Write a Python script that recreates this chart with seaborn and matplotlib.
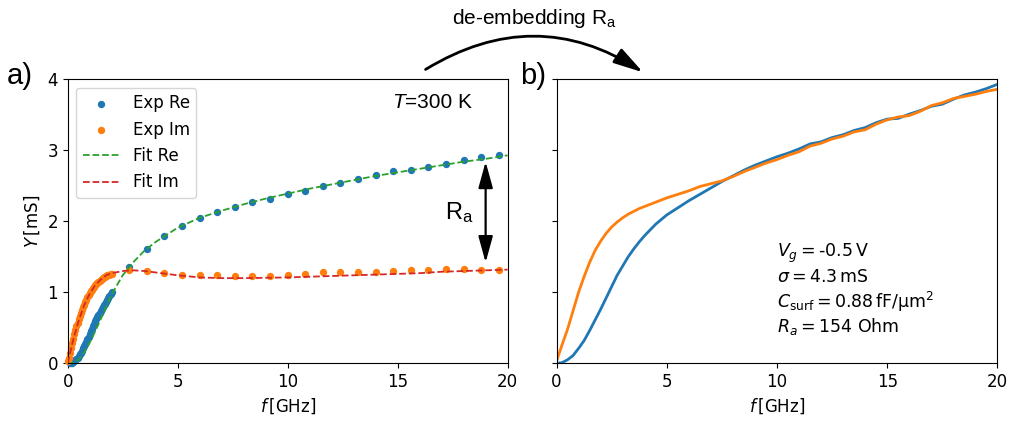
import pandas as pd
import seaborn as sns
import matplotlib.pyplot as plt
from matplotlib.patches import FancyArrowPatch

# ---- panel a) measured admittance (dense low-f sweep + sparse high-f points)
f_re_dense = [0.10, 0.15, 0.20, 0.25, 0.30, 0.35, 0.40, 0.45, 0.50, 0.55, 0.60,
              0.65, 0.70, 0.75, 0.80, 0.85, 0.90, 0.95, 1.00, 1.05, 1.10, 1.15,
              1.20, 1.25, 1.30, 1.35, 1.40, 1.45, 1.50, 1.55, 1.60, 1.65, 1.70,
              1.75, 1.80, 1.85, 1.90, 1.95, 2.00]
re_dense = [0.0, 0.0, 0.01, 0.02, 0.03, 0.045, 0.06, 0.08, 0.10, 0.125, 0.15,
            0.18, 0.21, 0.24, 0.27, 0.305, 0.34, 0.375, 0.41, 0.45, 0.49, 0.525,
            0.56, 0.59, 0.62, 0.65, 0.68, 0.71, 0.74, 0.765, 0.79, 0.815, 0.84,
            0.865, 0.89, 0.92, 0.95, 0.975, 1.00]
f_im_dense = [0.00, 0.05, 0.10, 0.15, 0.20, 0.25, 0.30, 0.35, 0.40, 0.45, 0.50,
              0.55, 0.60, 0.65, 0.70, 0.75, 0.80, 0.85, 0.90, 0.95, 1.00, 1.05,
              1.10, 1.15, 1.20, 1.25, 1.30, 1.35, 1.40, 1.45, 1.50, 1.55, 1.60,
              1.65, 1.70, 1.75, 1.80, 1.85, 1.90, 1.95, 2.00]
im_dense = [0.03, 0.08, 0.14, 0.21, 0.28, 0.345, 0.41, 0.465, 0.52, 0.57, 0.62,
            0.665, 0.71, 0.75, 0.79, 0.825, 0.86, 0.895, 0.93, 0.96, 0.99, 1.015,
            1.04, 1.06, 1.08, 1.10, 1.12, 1.135, 1.15, 1.165, 1.18, 1.19, 1.20,
            1.21, 1.22, 1.23, 1.24, 1.245, 1.25, 1.255, 1.26]

f_sparse = [2.8, 3.6, 4.4, 5.2, 6.0, 6.8, 7.6, 8.4, 9.2, 10.0, 10.8,
            11.6, 12.4, 13.2, 14.0, 14.8, 15.6, 16.4, 17.2, 18.0, 18.8, 19.6]
re_sparse = [1.36, 1.615, 1.80, 1.93, 2.04, 2.13, 2.20, 2.27, 2.32, 2.38, 2.43,
             2.50, 2.54, 2.60, 2.65, 2.71, 2.72, 2.76, 2.81, 2.86, 2.91, 2.93]
im_sparse = [1.32, 1.30, 1.27, 1.25, 1.24, 1.24, 1.225, 1.225, 1.235, 1.25, 1.26,
             1.28, 1.28, 1.29, 1.29, 1.305, 1.32, 1.315, 1.33, 1.33, 1.32, 1.31]

# fitted model
f_fit = [0.0, 0.25, 0.5, 0.75, 1.0, 1.25, 1.5, 1.75, 2.0, 2.5, 3.0, 3.5, 4.0,
         5.0, 6.0, 7.0, 8.0, 9.0, 10.0, 11.0, 12.0, 13.0, 14.0, 15.0, 16.0,
         17.0, 18.0, 19.0, 20.0]
re_fit = [0.0, 0.0, 0.05, 0.15, 0.29, 0.45, 0.62, 0.80, 0.97, 1.24, 1.43, 1.59, 1.71,
          1.91, 2.05, 2.15, 2.24, 2.32, 2.39, 2.46, 2.52, 2.58, 2.64, 2.69, 2.74,
          2.79, 2.84, 2.88, 2.93]
im_fit = [0.0, 0.33, 0.60, 0.82, 0.98, 1.10, 1.18, 1.24, 1.27, 1.30, 1.31, 1.30, 1.28,
          1.24, 1.21, 1.20, 1.20, 1.205, 1.21, 1.22, 1.23, 1.24, 1.25, 1.26, 1.27,
          1.29, 1.30, 1.31, 1.32]

# ---- panel b) after de-embedding R_a
f_b = [0.0, 0.25, 0.5, 0.75, 1.0, 1.25, 1.5, 1.75, 2.0, 2.25, 2.5, 2.75, 3.0,
       3.25, 3.5, 3.75, 4.0, 4.5, 5.0, 5.5, 6.0, 6.5, 7.0,
       7.5, 8.0, 8.5, 9.0, 9.5, 10.0, 10.5, 11.0, 11.5, 12.0, 12.5, 13.0, 13.5,
       14.0, 14.5, 15.0, 15.5, 16.0, 16.5, 17.0, 17.5, 18.0, 18.5, 19.0, 19.5, 20.0]
re_b = [0.0, 0.01, 0.05, 0.11, 0.21, 0.32, 0.46, 0.61, 0.76, 0.92, 1.08, 1.24, 1.37,
        1.50, 1.61, 1.71, 1.80, 1.96, 2.09, 2.19, 2.29,
        2.38, 2.47, 2.56, 2.64, 2.72, 2.79, 2.85, 2.91, 2.96, 3.02, 3.09, 3.12, 3.18,
        3.22, 3.28, 3.32, 3.39, 3.44, 3.45, 3.51, 3.56, 3.62, 3.65, 3.72, 3.78, 3.82,
        3.87, 3.93]
im_b = [0.03, 0.26, 0.48, 0.74, 1.00, 1.22, 1.42, 1.59, 1.72, 1.83, 1.92, 1.99, 2.05,
        2.10, 2.14, 2.18, 2.21, 2.27, 2.33, 2.38, 2.43,
        2.49, 2.53, 2.57, 2.63, 2.70, 2.76, 2.82, 2.87, 2.93, 2.98, 3.06, 3.10, 3.16,
        3.20, 3.26, 3.29, 3.37, 3.43, 3.47, 3.49, 3.55, 3.63, 3.67, 3.73, 3.76, 3.79,
        3.83, 3.86]

exp_re = pd.DataFrame({'f': f_re_dense + f_sparse, 'Y': re_dense + re_sparse})
exp_im = pd.DataFrame({'f': f_im_dense + f_sparse, 'Y': im_dense + im_sparse})
fit = pd.DataFrame({'f': f_fit, 're': re_fit, 'im': im_fit})
deemb = pd.DataFrame({'f': f_b, 're': re_b, 'im': im_b})

plt.rcParams['font.size'] = 12
arial = 'Liberation Sans'

fig = plt.figure(figsize=(10.1, 4.22), dpi=100)
ax1 = fig.add_axes([0.067, 0.139, 0.4356, 0.673])
ax2 = fig.add_axes([0.551, 0.139, 0.4366, 0.673])

sns.scatterplot(data=exp_re, x='f', y='Y', ax=ax1, color='#1f77b4', s=28,
                linewidth=0, label='Exp Re', zorder=2, clip_on=False)
sns.scatterplot(data=exp_im, x='f', y='Y', ax=ax1, color='#ff7f0e', s=28,
                linewidth=0, label='Exp Im', zorder=2, clip_on=False)
sns.lineplot(data=fit, x='f', y='re', ax=ax1, color='#2ca02c', linestyle='--',
             lw=1.3, label='Fit Re', zorder=3)
sns.lineplot(data=fit, x='f', y='im', ax=ax1, color='#d62728', linestyle='--',
             lw=1.3, label='Fit Im', zorder=3)

sns.lineplot(data=deemb, x='f', y='re', ax=ax2, color='#1f77b4', lw=2)
sns.lineplot(data=deemb, x='f', y='im', ax=ax2, color='#ff7f0e', lw=2)

for ax in (ax1, ax2):
    ax.set_xlim(0, 20)
    ax.set_ylim(0, 4)
    ax.set_xticks([0, 5, 10, 15, 20])
    ax.set_yticks([0, 1, 2, 3, 4])
    ax.set_xlabel(r'$f\,$[GHz]')
ax1.set_ylabel(r'$Y\,$[mS]')
ax2.set_ylabel('')
ax2.set_yticklabels([])

ax1.legend(loc='upper left', fontsize=12, handlelength=2.2)

# annotations
t1 = ax1.text(14.75, 3.67, 'T', family=arial, style='italic', fontsize=15,
              va='center', ha='left')
ax1.annotate('=300 K', xy=(1, 0), xycoords=t1, va='bottom', ha='left',
             family=arial, fontsize=15)
ax1.annotate('', xy=(19.0, 1.42), xytext=(19.0, 2.84),
             arrowprops=dict(arrowstyle='<|-|>,head_length=0.8,head_width=0.22',
                             color='black', lw=1.6, mutation_scale=20,
                             shrinkA=0, shrinkB=0))
ax1.text(17.8, 2.12, r'$\mathregular{R_a}$', family=arial, fontsize=17,
         ha='center', va='center')

ax2.text(10.0, 1.55, r'$V_g = $-0.5$\,$V', fontsize=12.5, va='center')
ax2.text(10.0, 1.21, r'$\sigma = 4.3\,\mathrm{mS}$', fontsize=12.5, va='center')
ax2.text(10.0, 0.87, r'$C_\mathrm{surf} = 0.88\,\mathrm{fF/µm^2}$', fontsize=12.5,
         va='center')
ax2.text(10.0, 0.52, r'$R_a = 154$ Ohm', fontsize=12.5, va='center')

fig.text(0.02, 0.82, 'a)', family=arial, fontsize=21, ha='center', va='center')
fig.text(0.528, 0.82, 'b)', family=arial, fontsize=21, ha='center', va='center')
fig.text(0.529, 0.955, r'de-embedding $\mathregular{R_a}$', family=arial,
         fontsize=15, ha='center', va='center')

arc = FancyArrowPatch((0.419, 0.832), (0.639, 0.825), transform=fig.transFigure,
                      connectionstyle='arc3,rad=-0.32',
                      arrowstyle='-|>,head_length=0.9,head_width=0.25',
                      mutation_scale=20, color='black', lw=2)
fig.patches.append(arc)

plt.savefig('out.png', dpi=100)
